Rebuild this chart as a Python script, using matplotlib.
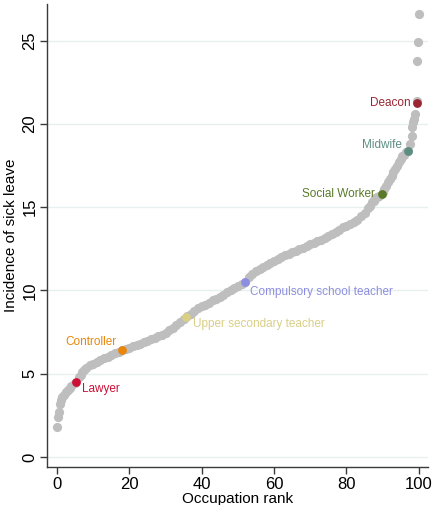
import matplotlib
matplotlib.use("Agg")
import matplotlib.pyplot as plt

plt.rcParams["font.family"] = ["Liberation Sans", "DejaVu Sans"]

# Incidence of sick leave by occupation rank (0-100)
rank = list(range(101))
incidence = [
  1.8, 3.4, 3.75, 4.0, 4.25, 4.45, 4.8, 5.1, 5.35, 5.5,
  5.6, 5.72, 5.82, 5.93, 6.02, 6.12, 6.22, 6.32, 6.42, 6.5,
  6.57, 6.65, 6.73, 6.8, 6.88, 6.97, 7.06, 7.15, 7.25, 7.35,
  7.47, 7.6, 7.72, 7.9, 8.1, 8.3, 8.45, 8.6, 8.75, 8.92,
  9.05, 9.15, 9.27, 9.4, 9.5, 9.62, 9.75, 9.9, 10.02, 10.12,
  10.25, 10.38, 10.5, 10.8, 11.0, 11.15, 11.3, 11.42, 11.55, 11.68,
  11.8, 11.92, 12.02, 12.12, 12.2, 12.3, 12.4, 12.5, 12.58, 12.67,
  12.77, 12.87, 12.95, 13.05, 13.15, 13.25, 13.38, 13.52, 13.66, 13.8,
  13.9, 14.0, 14.1, 14.25, 14.45, 14.65, 14.95, 15.3, 15.55, 15.7,
  15.9, 16.3, 16.7, 17.1, 17.5, 17.9, 18.15, 18.4, 19.3, 20.6,
  26.6,
]

# occupations sitting between whole ranks (steep tails)
extra_rank = [0.3, 0.5, 0.8, 1.5, 2.5, 3.5, 6.5, 7.5, 86.5, 87.5, 88.5, 90.5, 91.5, 92.5, 93.5,
              94.5, 95.5, 96.5, 97.5, 98.2, 98.5, 98.7, 99.4, 99.6, 99.8]
extra_incidence = [2.4, 2.7, 3.2, 3.6, 3.9, 4.12, 4.95, 5.22, 15.1, 15.4, 15.62, 16.1, 16.5, 16.9, 17.3,
                   17.7, 18.05, 18.3, 18.8, 19.8, 20.1, 20.3, 21.4, 23.75, 24.9]

# highlighted occupations
occupations = ["Lawyer", "Controller", "Upper secondary teacher", "Compulsory school teacher",
               "Social Worker", "Midwife", "Deacon"]
occ_rank = [5.2, 18.1, 35.6, 51.9, 89.7, 97.0, 99.4]
occ_incidence = [4.52, 6.42, 8.38, 10.48, 15.82, 18.36, 21.28]
occ_colors = ["#cc1038", "#e8870c", "#d9cf85", "#8e8ee0", "#5a7a28", "#5e8e82", "#9a2632"]
# label offset in points and alignment
occ_offsets = [(4.5, -5), (-4.5, 5.5), (5.5, -5), (3.5, -6.5), (-5, 0), (-4.5, 4.5), (-4, 0)]
occ_ha = ["left", "right", "left", "left", "right", "right", "right"]

fig = plt.figure(figsize=(4.37, 5.05), dpi=100)
ax = fig.add_axes([0.1076, 0.0752, 0.8714, 0.9168])

ax.scatter(rank, incidence, s=44, color="#bebebe", linewidths=0, zorder=2)
ax.scatter(extra_rank, extra_incidence, s=44, color="#bebebe", linewidths=0, zorder=2)

for name, x, y, c, off, ha in zip(occupations, occ_rank, occ_incidence, occ_colors, occ_offsets, occ_ha):
  ax.scatter([x], [y], s=40, color=c, linewidths=0, zorder=3)
  ax.annotate(name, (x, y), xytext=off, textcoords="offset points",
              ha=ha, va="center", color=c, fontsize=8.5, zorder=4)

ax.set_xlim(-2.76, 102.5)
ax.set_ylim(-0.6, 27.2)
ax.set_xticks([0, 20, 40, 60, 80, 100])
ax.set_yticks([0, 5, 10, 15, 20, 25])
ax.grid(axis="y", color="#e6f0f1", linewidth=1.0, zorder=0)
ax.set_axisbelow(True)

for side in ["top", "right"]:
  ax.spines[side].set_visible(False)
for side in ["left", "bottom"]:
  ax.spines[side].set_color("#3a3a3a")
  ax.spines[side].set_linewidth(1.0)

ax.tick_params(direction="out", length=5, width=1.0, color="#3a3a3a", labelsize=12, pad=2)
for lbl in ax.get_yticklabels():
  lbl.set_rotation(90)
  lbl.set_va("center")

ax.set_xlabel("Occupation rank", fontsize=11, labelpad=0)
ax.set_ylabel("Incidence of sick leave", fontsize=11, labelpad=3)

fig.savefig("out.png", dpi=100)
